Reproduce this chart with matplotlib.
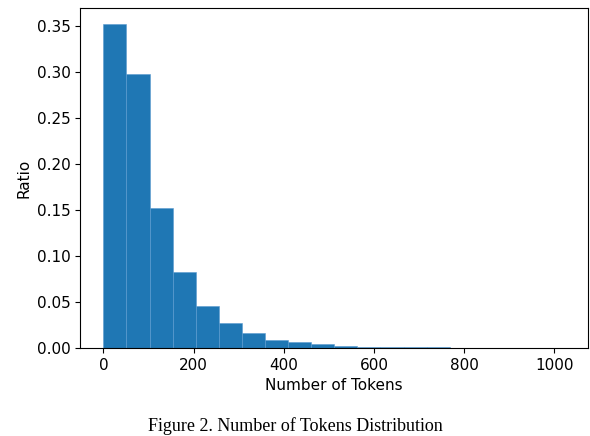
import numpy as np
import matplotlib.pyplot as plt

# histogram bins (20 bins over 0..1024) and the ratio per bin
bin_edges = np.linspace(0, 1024, 21)
ratios = [0.352, 0.298, 0.152, 0.083, 0.046, 0.027, 0.016, 0.009, 0.006, 0.004,
          0.0025, 0.0015, 0.001, 0.0007, 0.0005, 0.0003, 0.0002, 0.0002, 0.0001, 0.0001]

fig = plt.figure(figsize=(5.9, 4.36), dpi=100)
ax = fig.add_axes([0.136, 0.202, 0.861, 0.78])

widths = np.diff(bin_edges)
ax.bar(bin_edges[:-1], ratios, width=widths, align="edge",
       color="#1f77b4", edgecolor="#5b9bd0", linewidth=0.4)

ax.set_yticks(np.arange(0, 0.36, 0.05))
ax.tick_params(labelsize=11)
ax.set_xlabel("Number of Tokens", fontsize=11)
ax.set_ylabel("Ratio", fontsize=11)

fig.text(0.5, 0.002, "Figure 2. Number of Tokens Distribution", ha="center",
         va="bottom", family="Liberation Serif", fontsize=13)

fig.savefig("out.png")
